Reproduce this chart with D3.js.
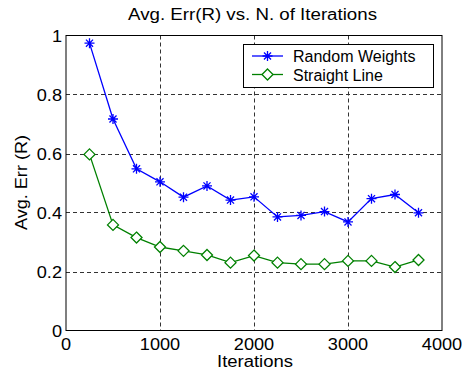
<!DOCTYPE html>
<html lang="en">
<head>
<meta charset="UTF-8">
<title>Avg. Err(R)</title>
<script src="https://d3js.org/d3.v7.min.js"></script>
<style>
  body { margin: 0; background: #fff; }
  text { font-family: "Liberation Sans", Arial, sans-serif; fill: #000; }
</style>
</head>
<body>
<svg width="463" height="373"></svg>
<script>
// data
var iterations = [250, 500, 750, 1000, 1250, 1500, 1750, 2000, 2250, 2500, 2750, 3000, 3250, 3500, 3750];
var randomWeights = [0.974, 0.717, 0.548, 0.504, 0.452, 0.490, 0.442, 0.453, 0.385, 0.390, 0.403, 0.368, 0.447, 0.461, 0.399];
var straightLine = [0.597, 0.358, 0.315, 0.283, 0.270, 0.256, 0.230, 0.254, 0.230, 0.225, 0.225, 0.236, 0.236, 0.215, 0.239];
var xTicks = [0, 1000, 2000, 3000, 4000];
var yTicks = [0, 0.2, 0.4, 0.6, 0.8, 1];
var seriesNames = ["Random Weights", "Straight Line"];

var svg = d3.select("svg");
var plot = { l: 66, r: 442, t: 35.5, b: 330.5 };

var x = d3.scaleLinear().domain([0, 4000]).range([plot.l, plot.r]);
var y = d3.scaleLinear().domain([0, 1]).range([plot.b, plot.t]);

// grid
var grid = svg.append("g")
    .attr("stroke", "#333")
    .attr("stroke-width", 1)
    .attr("stroke-dasharray", "4,3");
grid.selectAll(".gx").data(xTicks.slice(1, -1)).join("line")
    .attr("x1", d => Math.round(x(d)) + 0.5).attr("x2", d => Math.round(x(d)) + 0.5)
    .attr("y1", plot.t).attr("y2", plot.b);
grid.selectAll(".gy").data(yTicks.slice(1, -1)).join("line")
    .attr("y1", d => Math.round(y(d)) + 0.5).attr("y2", d => Math.round(y(d)) + 0.5)
    .attr("x1", plot.l).attr("x2", plot.r);

// axes box
svg.append("rect")
    .attr("x", plot.l).attr("y", plot.t)
    .attr("width", plot.r - plot.l).attr("height", plot.b - plot.t)
    .attr("fill", "none").attr("stroke", "#000").attr("stroke-width", 1);

// tick labels (slightly wider glyphs than Liberation)
svg.append("g").selectAll("text").data(xTicks).join("text")
    .attr("transform", d => "translate(" + x(d) + "," + (plot.b + 19.5) + ") scale(1.1,1)")
    .attr("text-anchor", "middle")
    .attr("font-size", 16.5)
    .text(d => d);
svg.append("g").selectAll("text").data(yTicks).join("text")
    .attr("transform", d => "translate(" + (plot.l - 4) + "," + (y(d) + 6) + ") scale(1.1,1)")
    .attr("text-anchor", "end")
    .attr("font-size", 16.5)
    .text(d => d);

// titles
svg.append("text").attr("x", 128).attr("y", 20)
    .attr("font-size", 16)
    .attr("textLength", 249).attr("lengthAdjust", "spacingAndGlyphs")
    .text("Avg. Err(R) vs. N. of Iterations");
svg.append("text").attr("x", 217).attr("y", 367)
    .attr("font-size", 16)
    .attr("textLength", 76).attr("lengthAdjust", "spacingAndGlyphs")
    .text("Iterations");
svg.append("text")
    .attr("transform", "translate(27,230) rotate(-90)")
    .attr("font-size", 16.5)
    .attr("textLength", 95).attr("lengthAdjust", "spacingAndGlyphs")
    .text("Avg. Err (R)");

var line = d3.line().x(d => x(d[0])).y(d => y(d[1]));

function starPath(r) {
    var p = "";
    for (var i = 0; i < 4; i++) {
        var a = i * Math.PI / 4;
        p += "M" + (-r * Math.cos(a)) + "," + (-r * Math.sin(a)) + "L" + (r * Math.cos(a)) + "," + (r * Math.sin(a));
    }
    return p;
}
function diamondPath(r) {
    return "M0," + (-r) + "L" + r + ",0L0," + r + "L" + (-r) + ",0Z";
}

var series = [
    { name: seriesNames[0], color: "#0000ff", values: randomWeights, marker: starPath(5), fill: "none" },
    { name: seriesNames[1], color: "#008000", values: straightLine, marker: diamondPath(5.5), fill: "#fff" }
];

series.forEach(function(s) {
    var pts = iterations.map((it, i) => [it, s.values[i]]);
    svg.append("path").datum(pts)
        .attr("d", line)
        .attr("fill", "none")
        .attr("stroke", s.color)
        .attr("stroke-width", 1.3);
    svg.append("g").selectAll("path").data(pts).join("path")
        .attr("transform", d => "translate(" + x(d[0]) + "," + y(d[1]) + ")")
        .attr("d", s.marker)
        .attr("fill", s.fill)
        .attr("stroke", s.color)
        .attr("stroke-width", 1.3);
});

// legend
var lg = svg.append("g");
lg.append("rect")
    .attr("x", 243.5).attr("y", 44.5).attr("width", 190).attr("height", 43)
    .attr("fill", "#fff").attr("stroke", "#000").attr("stroke-width", 1);
series.forEach(function(s, i) {
    var cy = 56 + i * 18.5;
    lg.append("line").attr("x1", 252).attr("x2", 283).attr("y1", cy).attr("y2", cy)
        .attr("stroke", s.color).attr("stroke-width", 1.3);
    lg.append("path").attr("transform", "translate(267.5," + cy + ")")
        .attr("d", s.marker)
        .attr("fill", s.fill)
        .attr("stroke", s.color).attr("stroke-width", 1.3);
    lg.append("text").attr("x", 293).attr("y", cy + 6)
        .attr("font-size", 16).text(s.name);
});
</script>
</body>
</html>
